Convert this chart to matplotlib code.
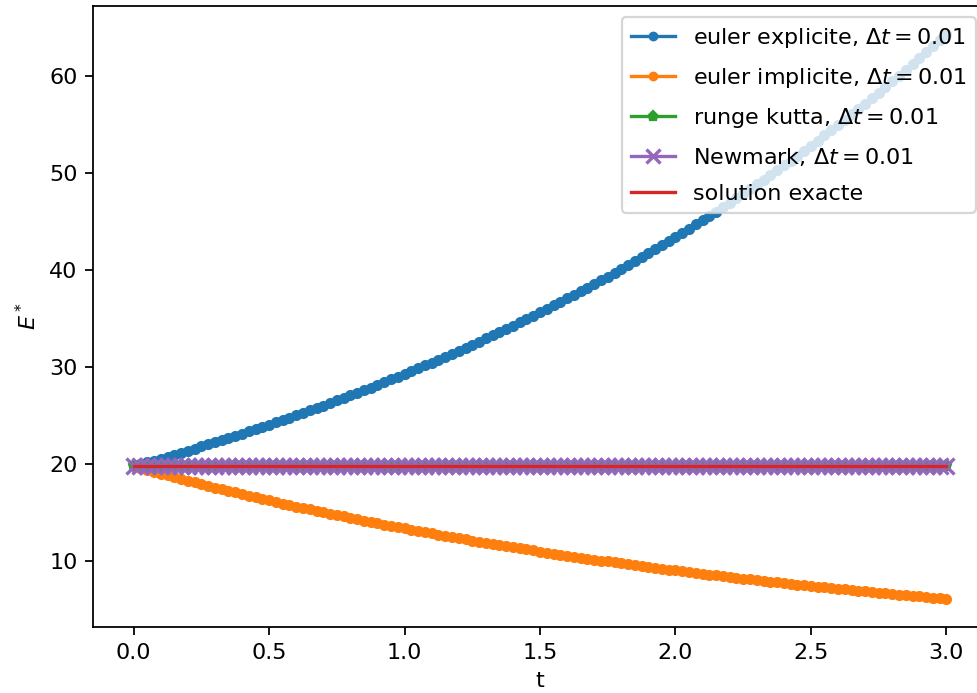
import numpy as np
import matplotlib
matplotlib.use("Agg")
import matplotlib.pyplot as plt

# time samples (every 0.025 s from 0 to 3)
t = np.linspace(0, 3, 121)

# energy
E_explicite = [19.74, 19.94, 20.13, 20.33, 20.53, 20.73, 20.94, 21.15, 21.36, 21.57,
               21.78, 22.00, 22.22, 22.44, 22.66, 22.88, 23.11, 23.34, 23.57, 23.80,
               24.04, 24.28, 24.52, 24.76, 25.00, 25.25, 25.50, 25.75, 26.01, 26.27,
               26.53, 26.79, 27.05, 27.32, 27.59, 27.86, 28.14, 28.42, 28.70, 28.98,
               29.27, 29.56, 29.85, 30.15, 30.45, 30.75, 31.05, 31.36, 31.67, 31.98,
               32.30, 32.62, 32.94, 33.27, 33.60, 33.93, 34.27, 34.61, 34.95, 35.30,
               35.64, 35.99, 36.35, 36.71, 37.08, 37.45, 37.81, 38.18, 38.57, 38.95,
               39.33, 39.72, 40.12, 40.52, 40.91, 41.31, 41.73, 42.14, 42.56, 42.98,
               43.40, 43.83, 44.27, 44.71, 45.15, 45.60, 46.05, 46.51, 46.96, 47.42,
               47.90, 48.37, 48.85, 49.33, 49.82, 50.31, 50.81, 51.31, 51.82, 52.33,
               52.86, 53.38, 53.91, 54.44, 54.98, 55.52, 56.07, 56.62, 57.19, 57.76,
               58.33, 58.91, 59.49, 60.08, 60.67, 61.27, 61.88, 62.49, 63.11, 63.73,
               64.36]

E_implicite = [19.74, 19.55, 19.35, 19.16, 18.98, 18.79, 18.61, 18.43, 18.24, 18.06,
               17.89, 17.71, 17.54, 17.37, 17.20, 17.03, 16.86, 16.69, 16.53, 16.37,
               16.21, 16.05, 15.89, 15.73, 15.58, 15.43, 15.28, 15.13, 14.98, 14.83,
               14.69, 14.55, 14.40, 14.26, 14.12, 13.98, 13.85, 13.71, 13.58, 13.45,
               13.31, 13.18, 13.05, 12.92, 12.80, 12.67, 12.55, 12.43, 12.30, 12.18,
               12.06, 11.94, 11.83, 11.71, 11.60, 11.49, 11.37, 11.26, 11.15, 11.04,
               10.93, 10.82, 10.72, 10.61, 10.51, 10.41, 10.30, 10.20, 10.10, 10.00,
               9.91, 9.81, 9.71, 9.61, 9.52, 9.43, 9.34, 9.25, 9.16, 9.07,
               8.98, 8.89, 8.80, 8.71, 8.63, 8.55, 8.46, 8.38, 8.30, 8.22,
               8.13, 8.05, 7.98, 7.90, 7.82, 7.74, 7.67, 7.59, 7.52, 7.45,
               7.37, 7.30, 7.23, 7.16, 7.09, 7.02, 6.95, 6.88, 6.81, 6.74,
               6.68, 6.61, 6.55, 6.49, 6.42, 6.36, 6.30, 6.24, 6.17, 6.11,
               6.05]

E0 = 19.74  # conserved energy level
E_rk = [E0] * len(t)
E_newmark = [E0] * len(t)
E_exacte = [E0] * len(t)

fig = plt.figure(figsize=(977 / 160, 693 / 160), dpi=160)
ax = fig.add_axes([93 / 977, 1 - 627 / 693, 894 / 977, 621 / 693])

ax.plot(t, E_explicite, marker='.', ms=8, color='C0', label=r'euler explicite, $\Delta t = 0.01$')
ax.plot(t, E_implicite, marker='.', ms=8, color='C1', label=r'euler implicite, $\Delta t = 0.01$')
ax.plot(t, E_rk, marker='p', ms=5, color='C2', label=r'runge kutta, $\Delta t = 0.01$')
ax.plot(t, E_newmark, marker='x', ms=7.5, mew=1.5, color='C4', label=r'Newmark, $\Delta t = 0.01$')
ax.plot(t, E_exacte, color='C3', label='solution exacte')

ax.set_xlabel('t')
ax.set_ylabel(r'$E^*$')
ax.legend(loc='upper right', labelspacing=0.72, markerscale=0.85)

fig.savefig('out.png', dpi=160)
